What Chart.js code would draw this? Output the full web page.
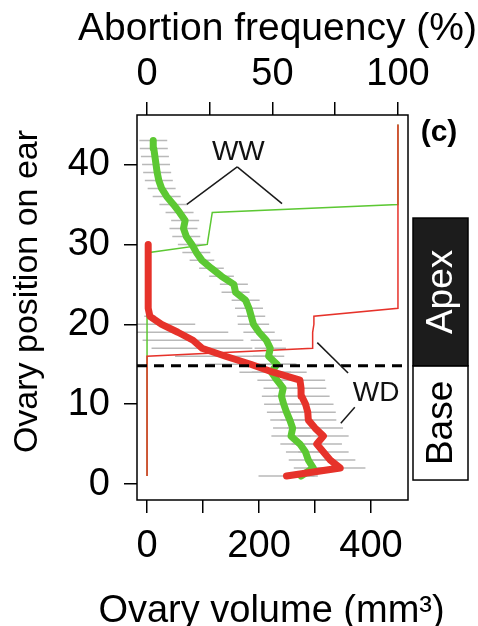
<!DOCTYPE html>
<html>
<head>
<meta charset="utf-8">
<script src="https://cdn.jsdelivr.net/npm/chart.js@4.4.0/dist/chart.umd.min.js"></script>
<style>
  html, body { margin: 0; padding: 0; background: #fff; }
</style>
</head>
<body>
<canvas id="ovaryChart" width="478" height="626"></canvas>
<script>
// ovary position on the ear (1 = base of the ear)
var wwPos = [1, 2, 3, 4, 5, 6, 7, 8, 9, 10, 11, 12, 13, 14, 15, 16, 17, 18, 19, 20, 21, 22,
             23, 24, 25, 26, 27, 28, 29, 30, 31, 32, 33, 34, 35, 36, 37, 38, 39, 40, 41, 42, 43];
var wwVolume = [275, 297, 288, 283, 273, 257, 260, 255, 249, 244, 240, 243, 232, 222, 232, 217, 220, 213, 200, 190, 186, 182,
                176, 158, 155, 133, 115, 98, 88, 80, 70, 65, 68, 58, 47, 35, 26, 21, 18, 16, 14, 12, 11];
var wwErr = [30, 35, 35, 35, 35, 35, 35, 35, 35, 35, 35, 35, 35, 35, 35, 28, 28, 28, 28, 28, 25, 25,
             25, 25, 25, 22, 22, 22, 25, 25, 25, 25, 25, 25, 25, 25, 25, 25, 25, 25, 25, 25, 25];

var wdPos = [1, 2, 3, 4, 5, 6, 7, 8, 9, 10, 11, 12, 13, 14, 15, 16, 17, 18, 19, 20, 21, 22, 23, 24, 25, 26, 27, 28, 29, 30];
var wdVolume = [249, 345, 327, 315, 303, 315, 300, 288, 287, 283, 276, 275, 273, 225, 185, 140, 98, 82, 55, 26, 5, 2, 2, 2, 2, 2, 2, 2, 2, 2];
var wdErr = [50, 45, 45, 45, 45, 45, 50, 50, 50, 50, 50, 45, 45, 60, 80, 90, 90, 90, 90, 60, 10, 3, 3, 3, 3, 3, 3, 3, 3, 3];

// abortion frequency (%) along the ear
var freqPos = [1, 2, 3, 4, 5, 6, 7, 8, 9, 10, 11, 12, 13, 14, 15, 16, 17, 18, 19, 20, 21, 22, 23,
               24, 25, 26, 27, 28, 29, 30, 31, 32, 33, 34, 35, 36, 37, 38, 39, 40, 41, 42, 43, 44, 45];
var wwAbort = [0, 0, 0, 0, 0, 0, 0, 0, 0, 0, 0, 0, 0, 0, 0, 0, 0, 0, 0, 0, 0, 0, 0,
               0, 0, 0, 0, 0, 1, 24, 24.5, 25, 25.5, 26, 100, 100, 100, 100, 100, 100, 100, 100, 100, 100, 100];
var wdAbort = [0, 0, 0, 0, 0, 0, 0, 0, 0, 0, 0, 0, 0, 0, 0, 0, 66, 66, 66, 66.5, 66.5, 100, 100,
               100, 100, 100, 100, 100, 100, 100, 100, 100, 100, 100, 100, 100, 100, 100, 100, 100, 100, 100, 100, 100, 100];

// axes
var volTicks = [0, 100, 200, 300, 400];
var volLabels = [0, 200, 400];
var freqTicks = [0, 25, 50, 75, 100];
var freqLabels = [0, 50, 100];
var posTicks = [0, 10, 20, 30, 40];
var volMin = -18, volMax = 466;
var freqMin = -4, freqMax = 104;
var posMin = -2, posMax = 46.2;

var volTitle = 'Ovary volume (mm³)';
var freqTitle = 'Abortion frequency (%)';
var posTitle = 'Ovary position on ear';

// apex / base split
var boundary = 14.8;
var zoneNames = ['Base', 'Apex'];
var zoneEdges = [0.5, boundary, 33.3];

var FONT = "'Liberation Sans', Arial, sans-serif";
var GREEN = '#5cc833';
var RED = '#e6322a';
var GREY = '#b9b9b9';

function toPoints(xs, ys) {
  return ys.map(function (y, i) { return { x: xs[i], y: y }; });
}

// one horizontal segment per position, broken by null points
function errSegments(pos, mean, err) {
  var pts = [];
  pos.forEach(function (p, i) {
    pts.push({ x: mean[i] - err[i], y: p }, { x: mean[i] + err[i], y: p }, { x: null, y: null });
  });
  return pts;
}

var callouts = [
  { text: 'WW', at: [163, 41.5], legs: [[[161, 39.7], [71, 35.0]], [[161, 39.7], [241, 35.1]]] },
  { text: 'WD', at: [409, 11.4], legs: [[[304, 17.7], [359, 13.9]], [[371, 9.6], [346, 7.6]]] }
];

var decorations = {
  id: 'decorations',
  afterDatasetsDraw: function (chart) {
    var ctx = chart.ctx, a = chart.chartArea;
    var sx = chart.scales.x, sy = chart.scales.y;
    ctx.save();

    // plot box
    ctx.strokeStyle = '#000';
    ctx.lineWidth = 1.5;
    ctx.strokeRect(a.left, a.top, a.right - a.left, a.bottom - a.top);

    // WW / WD call-outs
    ctx.strokeStyle = '#1a1a1a';
    ctx.lineWidth = 1.5;
    ctx.fillStyle = '#111';
    ctx.font = '28px ' + FONT;
    ctx.textAlign = 'center';
    ctx.textBaseline = 'middle';
    callouts.forEach(function (c) {
      c.legs.forEach(function (leg) {
        ctx.beginPath();
        ctx.moveTo(sx.getPixelForValue(leg[0][0]), sy.getPixelForValue(leg[0][1]));
        ctx.lineTo(sx.getPixelForValue(leg[1][0]), sy.getPixelForValue(leg[1][1]));
        ctx.stroke();
      });
      ctx.fillText(c.text, sx.getPixelForValue(c.at[0]), sy.getPixelForValue(c.at[1]));
    });

    // Apex / Base strip on the right
    var x0 = a.right + 5, w = 55;
    zoneNames.forEach(function (name, i) {
      var yTop = sy.getPixelForValue(zoneEdges[i + 1]);
      var yBot = sy.getPixelForValue(zoneEdges[i]);
      var dark = name === 'Apex';
      ctx.fillStyle = dark ? '#1c1c1c' : '#fff';
      ctx.fillRect(x0, yTop, w, yBot - yTop);
      ctx.strokeStyle = '#000';
      ctx.lineWidth = 1.5;
      ctx.strokeRect(x0, yTop, w, yBot - yTop);
      ctx.save();
      ctx.translate(x0 + w / 2 + 1, (yTop + yBot) / 2);
      ctx.rotate(-Math.PI / 2);
      ctx.fillStyle = dark ? '#fff' : '#000';
      ctx.font = '37px ' + FONT;
      ctx.textAlign = 'center';
      ctx.textBaseline = 'middle';
      ctx.fillText(name, 0, 0);
      ctx.restore();
    });

    // panel letter
    ctx.fillStyle = '#000';
    ctx.font = 'bold 30px ' + FONT;
    ctx.textAlign = 'center';
    ctx.textBaseline = 'middle';
    ctx.fillText('(c)', a.right + 31, a.top + 18);

    // axis titles (drawn here so they are not squeezed to the axis width)
    var cx = (a.left + a.right) / 2;
    ctx.textBaseline = 'alphabetic';
    ctx.font = '39px ' + FONT;
    ctx.fillText(freqTitle, cx + 5, 40);
    ctx.font = '38px ' + FONT;
    ctx.fillText(volTitle, cx - 1, chart.height - 4);
    ctx.save();
    ctx.translate(37, (a.top + a.bottom) / 2 - 16);
    ctx.rotate(-Math.PI / 2);
    ctx.font = '34px ' + FONT;
    ctx.fillText(posTitle, 0, 0);
    ctx.restore();

    ctx.restore();
  }
};

var ctx = document.getElementById('ovaryChart').getContext('2d');
var ovaryChart = new Chart(ctx, {
  type: 'scatter',
  data: {
    datasets: [{
      label: 'boundary',
      data: [{ x: volMin, y: boundary }, { x: volMax, y: boundary }],
      borderColor: '#000',
      borderWidth: 3,
      borderDash: [10, 7],
      showLine: true,
      pointRadius: 0,
      order: 0
    }, {
      label: 'WD volume',
      data: toPoints(wdVolume, wdPos),
      borderColor: RED,
      borderWidth: 7,
      borderJoinStyle: 'round',
      borderCapStyle: 'round',
      showLine: true,
      pointRadius: 0,
      order: 1
    }, {
      label: 'WW volume',
      data: toPoints(wwVolume, wwPos),
      borderColor: GREEN,
      borderWidth: 7,
      borderJoinStyle: 'round',
      borderCapStyle: 'round',
      showLine: true,
      pointRadius: 0,
      order: 2
    }, {
      label: 'WD abortion',
      data: toPoints(wdAbort, freqPos),
      xAxisID: 'x2',
      borderColor: RED,
      borderWidth: 1.5,
      showLine: true,
      pointRadius: 0,
      order: 3
    }, {
      label: 'WW abortion',
      data: toPoints(wwAbort, freqPos),
      xAxisID: 'x2',
      borderColor: GREEN,
      borderWidth: 1.5,
      showLine: true,
      pointRadius: 0,
      order: 4
    }, {
      label: 'WD error',
      data: errSegments(wdPos, wdVolume, wdErr),
      borderColor: GREY,
      borderWidth: 1.5,
      showLine: true,
      spanGaps: false,
      pointRadius: 0,
      order: 5
    }, {
      label: 'WW error',
      data: errSegments(wwPos, wwVolume, wwErr),
      borderColor: GREY,
      borderWidth: 1.5,
      showLine: true,
      spanGaps: false,
      pointRadius: 0,
      order: 6
    }]
  },
  options: {
    responsive: false,
    animation: false,
    devicePixelRatio: 1,
    layout: { padding: { left: 0, right: 70, top: 0, bottom: 0 } },
    plugins: {
      legend: { display: false },
      tooltip: { enabled: false }
    },
    scales: {
      x: {
        type: 'linear',
        position: 'bottom',
        min: volMin,
        max: volMax,
        afterBuildTicks: function (s) { s.ticks = volTicks.map(function (v) { return { value: v }; }); },
        afterFit: function (s) { s.height = 126; },
        ticks: {
          autoSkip: false,
          maxRotation: 0,
          padding: 11,
          color: '#000',
          font: { family: FONT, size: 38 },
          callback: function (v) { return volLabels.indexOf(v) >= 0 ? String(v) : ''; }
        },
        grid: { drawOnChartArea: false, drawTicks: true, tickLength: 13, color: '#000', lineWidth: 1.5 },
        border: { display: false }
      },
      x2: {
        type: 'linear',
        position: 'top',
        min: freqMin,
        max: freqMax,
        afterBuildTicks: function (s) { s.ticks = freqTicks.map(function (v) { return { value: v }; }); },
        afterFit: function (s) { s.height = 115; },
        ticks: {
          autoSkip: false,
          maxRotation: 0,
          padding: 5,
          color: '#000',
          font: { family: FONT, size: 38 },
          callback: function (v) { return freqLabels.indexOf(v) >= 0 ? String(v) : ''; }
        },
        grid: { drawOnChartArea: false, drawTicks: true, tickLength: 13, color: '#000', lineWidth: 1.5 },
        border: { display: false }
      },
      y: {
        type: 'linear',
        position: 'left',
        min: posMin,
        max: posMax,
        afterBuildTicks: function (s) { s.ticks = posTicks.map(function (v) { return { value: v }; }); },
        afterFit: function (s) { s.width = 137; },
        ticks: {
          autoSkip: false,
          padding: 14,
          color: '#000',
          font: { family: FONT, size: 38 }
        },
        grid: { drawOnChartArea: false, drawTicks: true, tickLength: 13, color: '#000', lineWidth: 1.5 },
        border: { display: false }
      }
    }
  },
  plugins: [decorations]
});
</script>
</body>
</html>
